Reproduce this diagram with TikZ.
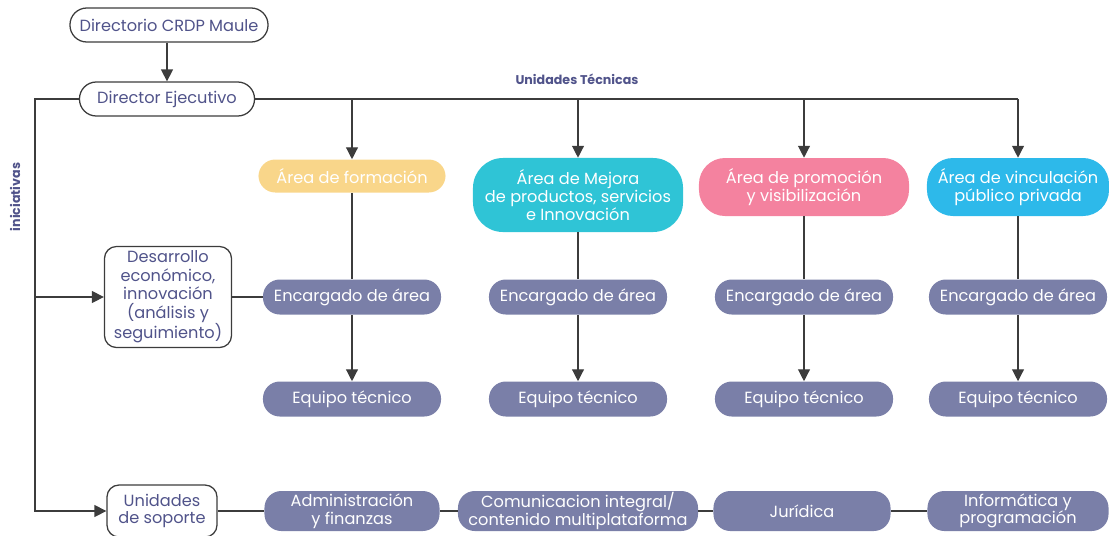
\documentclass[tikz,border=0pt]{standalone}
\usepackage{fontspec}
\setmainfont{Poppins}
\usepackage{xcolor}
\usepackage{tikz}
\usetikzlibrary{arrows.meta,calc}

\definecolor{slate}{HTML}{7A7FA8}
\definecolor{formyel}{HTML}{F9D68A}
\definecolor{mejcyan}{HTML}{2FC4D6}
\definecolor{prompink}{HTML}{F4829F}
\definecolor{vincblue}{HTML}{2DB9EA}
\definecolor{inkblue}{HTML}{50538A}
\definecolor{linegray}{HTML}{3C3C3C}

\tikzset{
  dirbox/.style={draw=linegray, line width=0.9pt, fill=white, text=inkblue, rounded corners=0.42cm, minimum height=0.85cm, inner sep=1pt},
  sidebox/.style={draw=linegray, line width=0.9pt, fill=white, text=inkblue, rounded corners=0.3cm, inner sep=1pt},
  areabox/.style={fill=#1, text=white, rounded corners=0.42cm, inner sep=1pt},
  slatebox/.style={fill=slate, text=white, rounded corners=0.42cm, minimum width=4.45cm, minimum height=0.875cm, inner sep=1pt},
  heading/.style={text=inkblue, font=\fontsize{9}{10}\selectfont\bfseries},
  conn/.style={draw=linegray, line width=0.9pt},
  arr/.style={conn, -{Triangle[width=8.5pt,length=8.5pt]}}
}

\begin{document}
\begin{tikzpicture}[x=0.025cm,y=-0.025cm,
  every node/.style={font=\fontsize{11.5}{12.5}\selectfont, align=center}]
\useasboundingbox (0,0) rectangle (1109,535);

% direccion
\node[dirbox, minimum width=4.95cm] (dir) at (169,25) {Directorio CRDP Maule};
\node[dirbox, minimum width=4.375cm] (ejec) at (167,99) {Director Ejecutivo};
\draw[arr] (dir.south -| ejec.north) -- (ejec.north);
\node[heading] (ut) at (577,79) {Unidades Técnicas};
\node[heading, rotate=90] (ini) at (15,197) {iniciativas};

% unidades tecnicas
\node[areabox=formyel, minimum width=4.675cm, minimum height=0.825cm] (a1) at (352,176) {Área de formación};
\node[areabox=mejcyan, minimum width=5.25cm, minimum height=1.85cm, rounded corners=0.75cm] (a2) at (578,195) {Área de Mejora\\de productos, servicios\\e Innovación};
\node[areabox=prompink, minimum width=5.25cm, minimum height=1.45cm, rounded corners=0.65cm] (a3) at (804,187) {Área de promoción\\y visibilización};
\node[areabox=vincblue, minimum width=4.55cm, minimum height=1.45cm, rounded corners=0.65cm] (a4) at (1018,187) {Área de vinculación\\público privada};
\draw[conn] (ejec.east) -- (ejec.east -| a4.north);

\foreach \i/\x in {1/352,2/578,3/804,4/1018}{
  \node[slatebox] (enc\i) at (\x,297) {Encargado de área};
  \node[slatebox] (eq\i) at (\x,399) {Equipo técnico};
  \draw[arr] (ejec.east -| a\i.north) -- (a\i.north);
  \draw[conn] (a\i) -- (enc\i);
  \draw[arr] (enc\i) -- (eq\i);
}

% iniciativas y soporte
\node[sidebox, minimum width=3.175cm, minimum height=2.525cm, font=\fontsize{11.5}{13.2}\selectfont] (des) at (168,297) {Desarrollo\\económico,\\innovación\\(análisis y\\seguimiento)};
\node[sidebox, minimum width=2.75cm, minimum height=1.3cm] (sop) at (162,511) {Unidades\\de soporte};
\coordinate (lb) at (35,511);
\draw[arr] (ejec.west) -| (lb) -- (sop.west);
\draw[arr] (des.west -| lb) -- (des.west);
\draw[conn] (des.east) -- (enc1.west);

\node[slatebox, minimum width=4.375cm, minimum height=1cm] (adm) at (352,511) {Administración\\y finanzas};
\node[slatebox, minimum width=6cm, minimum height=1cm] (com) at (578,511) {Comunicacion integral/\\contenido multiplataforma};
\node[slatebox, minimum width=4.425cm, minimum height=1cm] (jur) at (802,511) {Jurídica};
\node[slatebox, minimum width=4.525cm, minimum height=1cm] (inf) at (1018,511) {Informática y\\programación};
\draw[conn] (sop) -- (adm) -- (com) -- (jur) -- (inf);
\end{tikzpicture}
\end{document}
